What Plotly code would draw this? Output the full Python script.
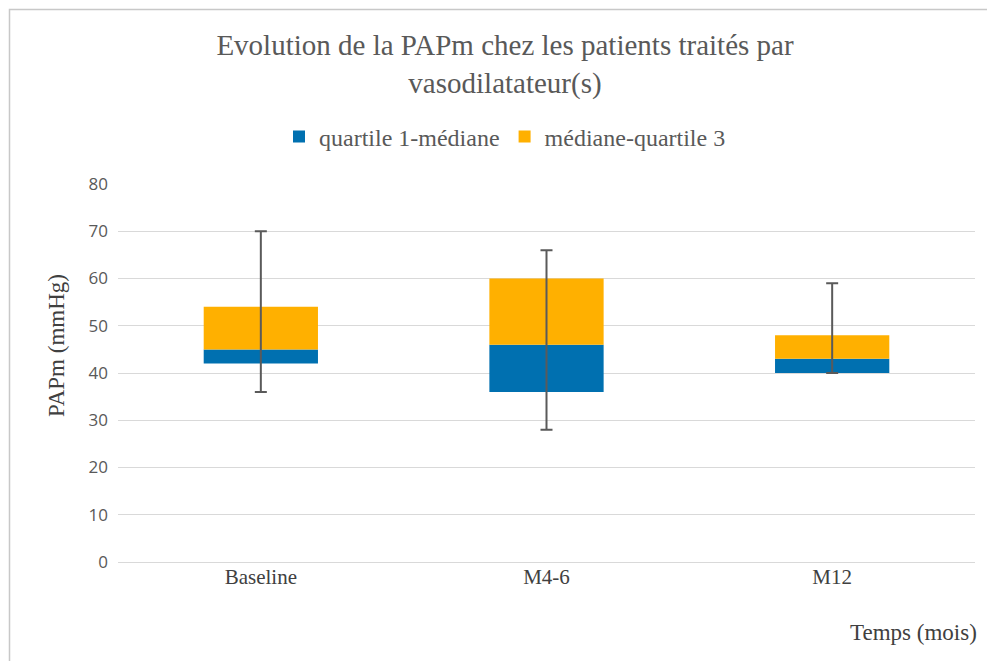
import plotly.graph_objects as go

categories = ["Baseline", "M4-6", "M12"]
q1 = [42, 36, 40]
median = [45, 46, 43]
q3 = [54, 60, 48]
minimum = [36, 28, 40]
maximum = [70, 66, 59]

blue = "#0070B0"
orange = "#FFB000"
serif = "Liberation Serif, Times New Roman, serif"
sans = "Open Sans, Liberation Sans, Arial, sans-serif"

fig = go.Figure()
fig.add_trace(go.Bar(
    x=categories, y=[m - a for m, a in zip(median, q1)], base=q1,
    name="quartile 1-médiane", marker=dict(color=blue, line=dict(width=0)),
    width=0.4,
))
fig.add_trace(go.Bar(
    x=categories, y=[b - m for b, m in zip(q3, median)], base=median,
    name="médiane-quartile 3", marker=dict(color=orange, line=dict(width=0)),
    width=0.4,
))
fig.add_trace(go.Scatter(
    x=categories, y=median, mode="markers",
    marker=dict(size=0.1, color="rgba(0,0,0,0)"),
    showlegend=False, hoverinfo="skip",
    error_y=dict(type="data", symmetric=False,
                 array=[mx - m for mx, m in zip(maximum, median)],
                 arrayminus=[m - mn for m, mn in zip(median, minimum)],
                 color="#5A5A5A", thickness=2, width=6),
))

# page body has an 8px margin; positions below are reference pixels
OFF = 8
W, H = 995, 661
L, T = 118 - OFF, 184 - OFF
pw, ph = 857, 378
R = W - L - pw
B = H - T - ph

def px_x(p):
    return (p - OFF - L) / pw

def px_y(p):
    return (T + ph - (p - OFF)) / ph

def cx(p):
    return (p - OFF) / W

def cy(p):
    return 1 - (p - OFF) / H

# chart frame (left and top edges visible)
fig.add_shape(type="rect", xref="paper", yref="paper",
              x0=px_x(9.5), x1=px_x(1100), y0=px_y(900), y1=px_y(9.5),
              line=dict(color="#C8C8C8", width=1.5), fillcolor="rgba(0,0,0,0)",
              layer="below")

fig.update_layout(
    width=W, height=H,
    margin=dict(l=L, r=R, t=T, b=B),
    paper_bgcolor="white", plot_bgcolor="white",
    barmode="overlay",
    title=dict(text="Evolution de la PAPm chez les patients traités par<br>vasodilatateur(s)",
               x=cx(505), xanchor="center", xref="container",
               y=cy(55), yanchor="middle", yref="container",
               font=dict(family=serif, size=29, color="#595959")),
    legend=dict(orientation="h", x=cx(505), xanchor="center", xref="container",
                y=cy(137), yanchor="middle", yref="container",
                font=dict(family=serif, size=24, color="#595959"),
                itemwidth=30, traceorder="normal"),
    xaxis=dict(showgrid=False, showline=False, ticks="",
               tickfont=dict(family=serif, size=21, color="#404040")),
    yaxis=dict(range=[0, 80], dtick=10, showgrid=True, gridcolor="#D9D9D9",
               gridwidth=1, zeroline=True, zerolinecolor="#D9D9D9", zerolinewidth=1,
               showline=False, ticks="", ticklen=0, ticklabelstandoff=9,
               tickfont=dict(family=sans, size=17, color="#595959")),
    annotations=[
        dict(text="Temps (mois)", xref="paper", yref="paper",
             x=px_x(913), y=px_y(632), xanchor="center", yanchor="middle",
             showarrow=False, font=dict(family=serif, size=23, color="#404040")),
        dict(text="PAPm (mmHg)", xref="paper", yref="paper", textangle=-90,
             x=px_x(56), y=px_y(346), xanchor="center", yanchor="middle",
             showarrow=False, font=dict(family=serif, size=23, color="#404040")),
    ],
)

fig.write_html("out.html")
